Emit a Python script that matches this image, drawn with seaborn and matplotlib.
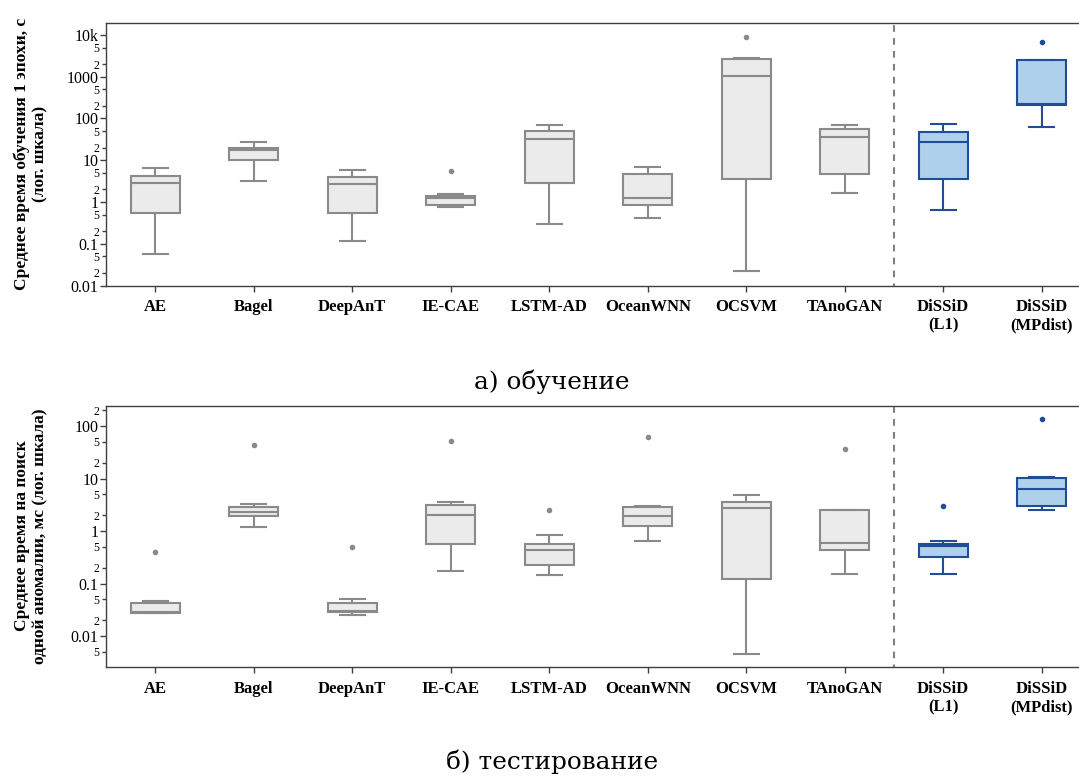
import numpy as np
import pandas as pd
import matplotlib
matplotlib.use("Agg")
import matplotlib.pyplot as plt
import seaborn as sns
from matplotlib.ticker import LogLocator, FuncFormatter

# ---------------- data ----------------
methods = ["AE", "Bagel", "DeepAnT", "IE-CAE", "LSTM-AD", "OceanWNN",
           "OCSVM", "TAnoGAN", "DiSSiD\n(L1)", "DiSSiD\n(MPdist)"]
proposed = ["DiSSiD\n(L1)", "DiSSiD\n(MPdist)"]

# training: mean time per epoch, s
train_lo = [0.056, 3.2, 0.115, 0.74, 0.30, 0.415, 0.022, 1.64, 0.65, 63]
train_q1 = [0.55, 10.3, 0.53, 0.86, 2.9, 0.83, 3.55, 4.68, 3.55, 212]
train_med = [2.85, 17.1, 2.7, 1.22, 32, 1.27, 1065, 35.8, 26.6, 222]
train_q3 = [4.1, 19.9, 3.9, 1.42, 48.8, 4.75, 2620, 56.6, 48, 2520]
train_hi = [6.4, 28, 5.8, 1.52, 69, 6.9, 2860, 70.5, 71.8, 2540]
train_out = [None, None, None, 5.5, None, None, 9100, None, None, 6680]

# testing: mean time per anomaly search, ms
test_lo = [0.027, 1.17, 0.0255, 0.173, 0.145, 0.645, 0.0046, 0.15, 0.154, 2.51]
test_q1 = [0.028, 1.90, 0.0286, 0.57, 0.228, 1.24, 0.123, 0.44, 0.324, 2.95]
test_med = [0.029, 2.33, 0.0303, 1.99, 0.44, 1.95, 2.70, 0.58, 0.525, 6.2]
test_q3 = [0.042, 2.87, 0.043, 3.09, 0.56, 2.83, 3.57, 2.48, 0.565, 10.2]
test_hi = [0.047, 3.27, 0.051, 3.52, 0.83, 2.95, 4.85, 2.48, 0.645, 10.7]
test_out = [0.39, 44, 0.50, 52.5, 2.51, 61.7, None, 36, 3.03, 134]

train_major = {0.01: "0.01", 0.1: "0.1", 1: "1", 10: "10", 100: "100",
               1000: "1000", 10000: "10k"}
test_major = {0.01: "0.01", 0.1: "0.1", 1: "1", 10: "10", 100: "100"}

train_ylabel = "Среднее время обучения 1 эпохи, с\n(лог. шкала)"
test_ylabel = "Среднее время на поиск\nодной аномалии, мс (лог. шкала)"
captions = ["а) обучение", "б) тестирование"]


def build(lo, q1, med, q3, hi, out):
    rows = []
    for m, a, b, c, d, e, o in zip(methods, lo, q1, med, q3, hi, out):
        vals = [a, b, c, d, e] if o is None else [a, b, b, c, c, d, d, e, o]
        rows += [(m, v) for v in vals]
    return pd.DataFrame(rows, columns=["method", "value"])


train_df = build(train_lo, train_q1, train_med, train_q3, train_hi, train_out)
test_df = build(test_lo, test_q1, test_med, test_q3, test_hi, test_out)

# ---------------- style ----------------
SERIF = ["Liberation Serif", "DejaVu Serif"]
plt.rcParams["font.family"] = SERIF
GRAY_FILL, GRAY_EDGE = "#ebebeb", "#8a8a8a"
BLUE_FILL, BLUE_EDGE = "#aed0ea", "#1f4e96"
SPINE = "#404040"

W, H = 1079, 778
fig = plt.figure(figsize=(W / 100, H / 100), dpi=100)
ax1 = fig.add_axes([106 / W, 1 - 285.5 / H, 985 / W, 262.2 / H])
ax2 = fig.add_axes([106 / W, 1 - 666.7 / H, 985 / W, 261 / H])


def draw(ax, df, ylim, major, ylabel):
    groups = [(df[~df.method.isin(proposed)], GRAY_FILL, GRAY_EDGE),
              (df[df.method.isin(proposed)], BLUE_FILL, BLUE_EDGE)]
    for sub, fill, edge in groups:
        sns.boxplot(data=sub, x="method", y="value", order=methods, ax=ax,
                    color=fill, linecolor=edge, linewidth=1.5, width=0.5,
                    saturation=1, fliersize=3.0,
                    flierprops=dict(marker="o", markerfacecolor=edge,
                                    markeredgecolor=edge))
    ax.set_yscale("log")
    ax.set_ylim(*ylim)
    ax.set_xlim(-0.5, 9.5)
    ax.axvline(7.5, color="#808080", lw=1.5, ls=(2, (3.2, 3.0)), zorder=0)

    ax.yaxis.set_major_locator(LogLocator(base=10, numticks=20))
    ax.yaxis.set_minor_locator(LogLocator(base=10, subs=[2, 5], numticks=20))
    ax.yaxis.set_major_formatter(FuncFormatter(
        lambda v, p: next((s for k, s in major.items()
                           if abs(np.log10(v) - np.log10(k)) < 1e-6), "")))
    ax.yaxis.set_minor_formatter(FuncFormatter(
        lambda v, p: str(int(round(v / 10 ** np.floor(np.log10(v) + 1e-9))))))
    ax.tick_params(axis="y", which="major", labelsize=11.5, length=4,
                   width=1, color=SPINE, pad=1.5)
    ax.tick_params(axis="y", which="minor", labelsize=8.5, length=3,
                   width=1, color=SPINE, pad=1.5)
    ax.tick_params(axis="x", length=4, width=1, color=SPINE, pad=6)
    for lab in ax.get_xticklabels():
        lab.set_fontweight("bold")
        lab.set_fontsize(12)
        lab.set_multialignment("center")
    ax.set_xlabel("")
    ax.set_ylabel("")
    for side in ["top", "left", "bottom"]:
        ax.spines[side].set_color(SPINE)
        ax.spines[side].set_linewidth(1)
    ax.spines["right"].set_visible(False)


draw(ax1, train_df, (0.01, 19000), train_major, train_ylabel)
draw(ax2, test_df, (0.0026, 244), test_major, test_ylabel)

fig.text(31 / W, 1 - 154 / H, train_ylabel, rotation=90, ha="center",
         va="center", fontsize=12.5, fontweight="bold", multialignment="center")
fig.text(31 / W, 1 - 536 / H, test_ylabel, rotation=90, ha="center",
         va="center", fontsize=12.5, fontweight="bold", multialignment="center")

fig.text(552 / W, 1 - 382 / H, captions[0], ha="center", va="center",
         fontsize=17.8, family=["DejaVu Serif"])
fig.text(552 / W, 1 - 762 / H, captions[1], ha="center", va="center",
         fontsize=17.8, family=["DejaVu Serif"])

fig.savefig("out.png", dpi=100)
